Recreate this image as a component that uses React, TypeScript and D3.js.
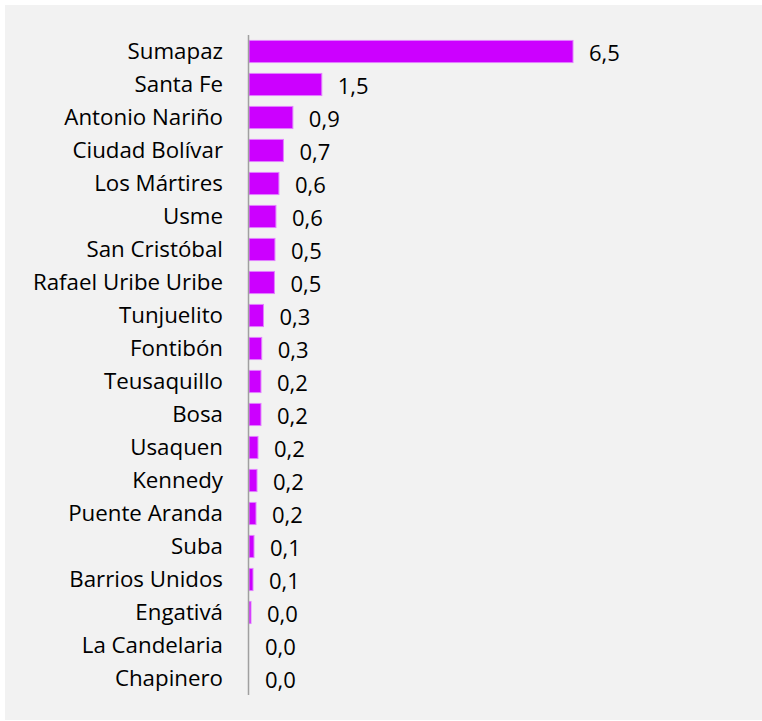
import React from "react";
import * as d3 from "d3";

const categories = [
  "Sumapaz", "Santa Fe", "Antonio Nariño", "Ciudad Bolívar", "Los Mártires", "Usme",
  "San Cristóbal", "Rafael Uribe Uribe", "Tunjuelito", "Fontibón", "Teusaquillo", "Bosa",
  "Usaquen", "Kennedy", "Puente Aranda", "Suba", "Barrios Unidos", "Engativá",
  "La Candelaria", "Chapinero",
];
const values = [
  6.5, 1.46, 0.88, 0.69, 0.6, 0.54, 0.52, 0.51, 0.29, 0.255, 0.24, 0.24,
  0.18, 0.16, 0.14, 0.1, 0.08, 0.04, 0.0, 0.0,
];
const valueLabels = [
  "6,5", "1,5", "0,9", "0,7", "0,6", "0,6", "0,5", "0,5", "0,3", "0,3", "0,2", "0,2",
  "0,2", "0,2", "0,2", "0,1", "0,1", "0,0", "0,0", "0,0",
];

const W = 762;
const H = 721;
const FONT = "'Open Sans', sans-serif";

export default function App() {
  const x0 = 249;
  const x = d3.scaleLinear().domain([0, 6.5]).range([x0, 573]);
  const y = d3
    .scaleBand<string>()
    .domain(categories)
    .range([35, 695])
    .paddingInner(0.33)
    .paddingOuter(0.165);

  return (
    <svg
      width={W}
      height={H}
      style={{ position: "absolute", left: 0, top: 0, background: "#ffffff" }}
    >
      <rect x={5} y={5} width={W - 5} height={715} fill="#F2F2F2" />
      {categories.map((c, i) => {
        const yb = y(c)!;
        const bw = x(values[i]) - x0;
        const cy = yb + y.bandwidth() / 2;
        return (
          <g key={c}>
            {bw > 0.5 && (
              <rect
                x={x0}
                y={yb}
                width={bw}
                height={y.bandwidth()}
                fill="#CC00FF"
                stroke="#E27FFF"
                strokeWidth={1}
              />
            )}
            <text
              x={223}
              y={cy + 7.4}
              textAnchor="end"
              fontFamily={FONT}
              fontSize={22.3}
              fill="#000"
            >
              {c}
            </text>
            <text
              x={x(values[i]) + 16}
              y={cy + 9}
              fontFamily={FONT}
              fontSize={22}
              fill="#000"
            >
              {valueLabels[i]}
            </text>
          </g>
        );
      })}
      <line
        x1={248.5}
        x2={248.5}
        y1={y.range()[0]}
        y2={y.range()[1]}
        stroke="#A0A0A0"
        strokeWidth={1.5}
      />
    </svg>
  );
}
